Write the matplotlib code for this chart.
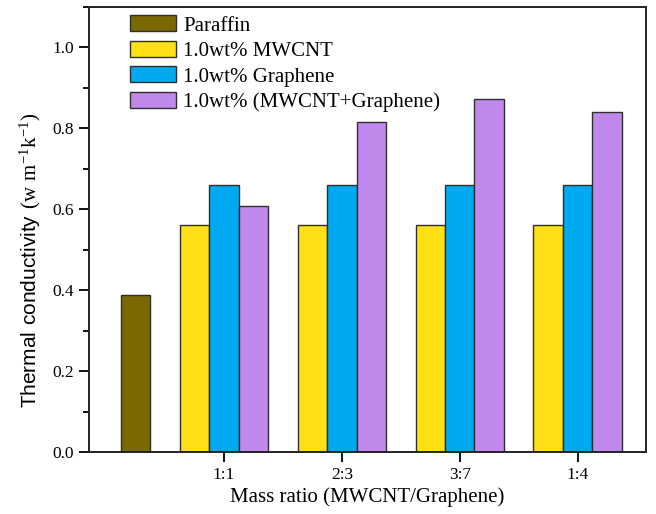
import matplotlib
matplotlib.use("Agg")
import matplotlib.pyplot as plt
import numpy as np
from matplotlib.ticker import MultipleLocator, FormatStrFormatter

plt.rcParams['font.family'] = 'Liberation Serif'
plt.rcParams['mathtext.fontset'] = 'custom'
plt.rcParams['mathtext.rm'] = 'Liberation Serif'
plt.rcParams['mathtext.sf'] = 'Liberation Sans'

#### Data
ratios = ["1:1", "2:3", "3:7", "1:4"]
paraffin = 0.389
mwcnt = [0.562, 0.562, 0.562, 0.562]
graphene = [0.659, 0.659, 0.659, 0.659]
hybrid = [0.607, 0.815, 0.872, 0.840]

c_par = '#7b6800'
c_mw = '#ffe014'
c_gr = '#00aaf0'
c_hy = '#c088ec'
edge = '#2e2e2e'

x = np.arange(1, len(ratios) + 1)
w = 0.25

fig = plt.figure(figsize=(6.56, 5.14), dpi=100)
ax = fig.add_axes([0.1357, 0.1206, 0.849, 0.8658])

ax.bar([0.25], [paraffin], w, color=c_par, edgecolor=edge, lw=1, label='Paraffin')
ax.bar(x - w, mwcnt, w, color=c_mw, edgecolor=edge, lw=1, label='1.0wt% MWCNT')
ax.bar(x, graphene, w, color=c_gr, edgecolor=edge, lw=1, label='1.0wt% Graphene')
ax.bar(x + w, hybrid, w, color=c_hy, edgecolor=edge, lw=1, label='1.0wt% (MWCNT+Graphene)')

ax.set_xlim(-0.146, 4.58)
ax.set_ylim(0, 1.1)
ax.set_xticks(x)
ax.set_xticklabels(ratios)
ax.yaxis.set_major_locator(MultipleLocator(0.2))
ax.yaxis.set_minor_locator(MultipleLocator(0.1))
ax.yaxis.set_major_formatter(FormatStrFormatter('%.1f'))
ax.tick_params(axis='both', direction='out', labelsize=12.5, width=1.3, length=7, pad=4)
ax.tick_params(axis='y', which='minor', direction='out', width=1.3, length=4)
for s in ax.spines.values():
    s.set_linewidth(1.4)
    s.set_color('#222222')

ax.set_xlabel('Mass ratio (MWCNT/Graphene)', fontsize=15, labelpad=3)
ax.set_ylabel(r'$\mathsf{Thermal\ conductivity}\ \mathrm{(w\ m^{-1}k^{-1})}$', fontsize=15)
ax.yaxis.set_label_coords(-0.082, 0.43)

ax.legend(loc='upper left', frameon=False, fontsize=15, handlelength=2.2,
          handleheight=0.8, labelspacing=0.25, handletextpad=0.35,
          borderaxespad=0.0, borderpad=0.3, bbox_to_anchor=(0.062, 0.995))

fig.savefig('out.png', dpi=100)
